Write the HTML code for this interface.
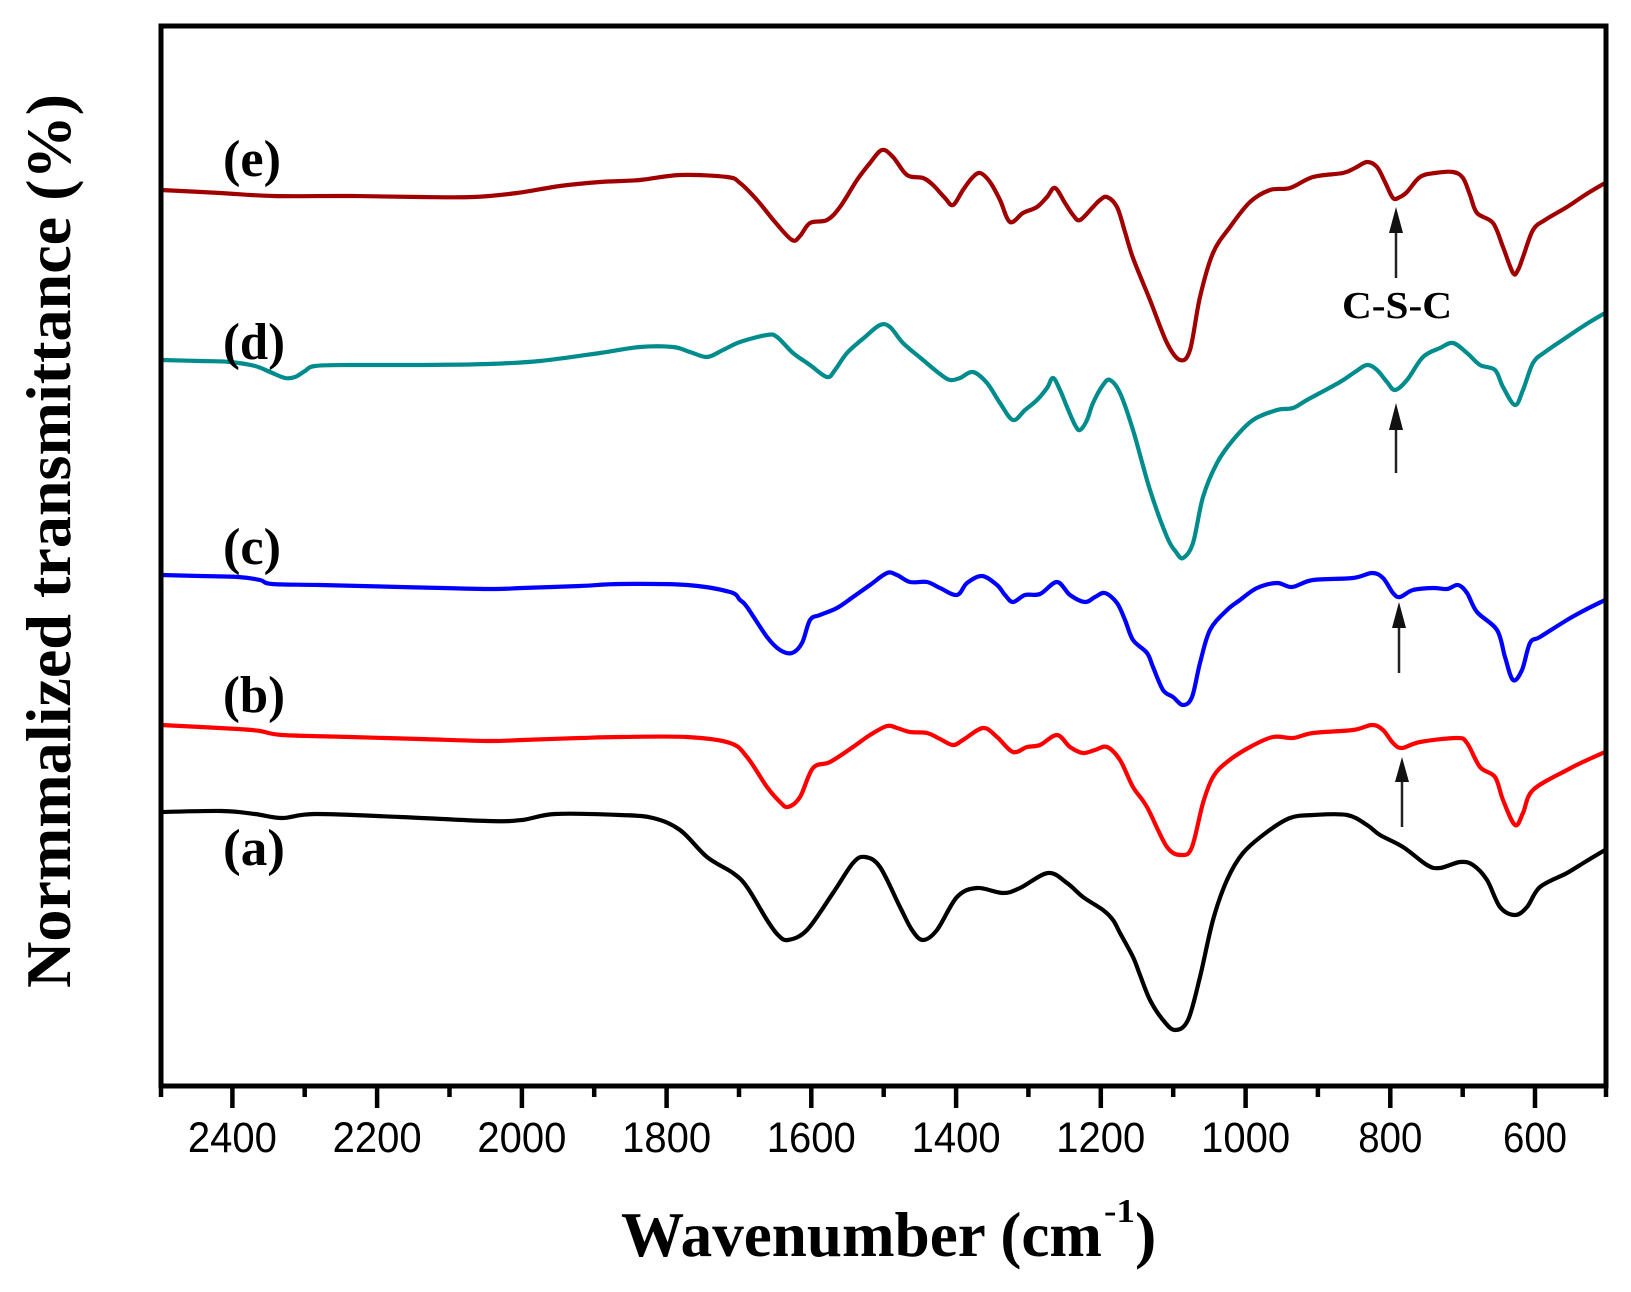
<!DOCTYPE html>
<html>
<head>
<meta charset="utf-8">
<style>
  html, body { margin: 0; padding: 0; background: #ffffff; }
  svg { display: block; }
</style>
</head>
<body>
<svg id="chart" width="1631" height="1292" viewBox="0 0 1631 1292" xmlns="http://www.w3.org/2000/svg">
  <rect x="0" y="0" width="1631" height="1292" fill="#ffffff"/>

  <!-- Curves -->
  <g id="curves" fill="none" stroke-width="4.2" stroke-linejoin="round" stroke-linecap="round">
    <!-- (e) dark red -->
    <polyline stroke="#a00000" points="161,190 220,193 273,196 350,196 420,197 473,197 517,193 560,186 600,182 640,180 680,175 727,177 740,183 757,200 775,222 792,240 800,236 810,223 827,220 840,207 857,180 870,163 882,150 893,157 907,175 923,178 933,185 945,198 953,205 963,190 972,178 980,173 990,182 1000,200 1010,222 1023,213 1037,207 1047,197 1055,188 1065,203 1073,215 1080,220 1093,207 1100,200 1107,197 1117,207 1125,232 1133,258 1150,300 1167,343 1180,360 1190,350 1200,297 1213,253 1230,227 1250,202 1270,190 1290,188 1313,177 1343,173 1355,168 1367,162 1377,167 1385,182 1393,198 1400,197 1407,192 1420,177 1435,173 1453,172 1463,178 1470,195 1477,213 1493,223 1503,247 1513,273 1518,270 1523,257 1533,230 1545,220 1567,207 1585,195 1605,183"/>
    <!-- (d) teal -->
    <polyline stroke="#008c8c" points="161,360 200,361 230,362 255,366 270,372 285,378 295,377 305,371 315,366 350,365 420,365 488,364 540,361 600,353 640,347 673,347 690,352 707,357 723,350 740,342 767,335 777,337 793,353 810,365 827,377 835,370 847,353 865,337 880,325 890,327 903,343 923,360 940,374 950,380 960,378 973,372 987,383 1000,403 1013,420 1025,410 1037,400 1047,388 1053,378 1060,390 1067,407 1075,425 1080,430 1087,420 1093,403 1103,385 1110,380 1120,393 1133,430 1150,490 1167,537 1176,552 1183,558 1193,543 1203,497 1217,463 1233,440 1253,420 1277,410 1293,408 1307,400 1340,382 1355,372 1367,365 1377,370 1387,382 1395,390 1407,380 1423,357 1440,348 1453,343 1467,353 1480,365 1495,370 1503,387 1515,405 1523,390 1533,363 1545,352 1567,337 1585,325 1605,313"/>
    <!-- (c) blue -->
    <polyline stroke="#0000ff" points="161,575 200,576 238,577 260,580 272,584 320,585 400,587 488,589 522,588 580,586 620,584 687,585 730,592 740,600 747,607 767,637 780,650 792,653 802,643 810,620 820,615 837,608 853,597 870,585 887,573 897,575 910,582 927,582 940,588 957,595 967,583 982,576 997,585 1005,595 1013,602 1025,595 1040,594 1057,582 1070,595 1085,602 1095,597 1105,593 1117,603 1125,620 1133,640 1147,653 1153,667 1163,690 1173,697 1183,705 1192,697 1200,663 1210,630 1227,610 1240,600 1257,588 1277,583 1292,587 1313,580 1353,578 1372,573 1383,578 1393,593 1400,597 1413,590 1433,588 1447,589 1458,585 1467,593 1477,612 1497,630 1505,657 1513,680 1522,670 1530,643 1540,637 1567,620 1585,610 1605,600"/>
    <!-- (b) red -->
    <polyline stroke="#ff0000" points="161,725 238,729 260,731 282,735 350,737 420,739 488,741 522,740 580,738 620,737 687,737 730,743 747,757 767,787 780,802 788,807 800,797 813,768 830,762 853,747 870,735 887,726 897,728 910,732 927,733 940,739 953,745 963,740 983,728 997,737 1013,752 1027,747 1040,745 1057,735 1070,747 1083,753 1095,750 1107,747 1120,760 1133,787 1147,807 1167,847 1182,855 1192,847 1203,803 1213,777 1227,762 1250,747 1273,737 1293,738 1313,733 1353,730 1372,725 1383,730 1393,743 1402,748 1420,742 1457,738 1467,743 1480,767 1495,777 1503,800 1515,825 1523,813 1533,790 1567,770 1585,761 1605,752"/>
    <!-- (a) black -->
    <polyline stroke="#000000" points="161,812 222,811 255,814 282,818 315,814 400,817 488,821 522,820 555,814 620,815 653,818 680,830 707,857 733,873 747,887 767,920 778,935 788,940 807,930 833,893 853,863 865,857 880,867 900,907 912,930 923,940 937,930 957,897 977,888 1003,893 1020,888 1048,873 1067,883 1083,897 1103,910 1113,920 1120,933 1133,957 1140,975 1150,1000 1163,1020 1175,1030 1188,1020 1200,977 1213,920 1227,880 1243,853 1267,832 1290,818 1313,815 1347,815 1367,825 1380,835 1403,847 1427,865 1440,868 1460,862 1473,865 1487,880 1500,907 1515,915 1527,907 1540,887 1567,873 1585,862 1605,850"/>
  </g>

  <!-- Frame -->
  <rect x="161" y="26" width="1445" height="1060" fill="none" stroke="#000" stroke-width="5"/>

  <!-- Ticks -->
  <g stroke="#000" stroke-width="4.5">
    <line x1="232.4" y1="1086" x2="232.4" y2="1108"/>
    <line x1="377.1" y1="1086" x2="377.1" y2="1108"/>
    <line x1="521.9" y1="1086" x2="521.9" y2="1108"/>
    <line x1="666.6" y1="1086" x2="666.6" y2="1108"/>
    <line x1="811.3" y1="1086" x2="811.3" y2="1108"/>
    <line x1="956.1" y1="1086" x2="956.1" y2="1108"/>
    <line x1="1100.8" y1="1086" x2="1100.8" y2="1108"/>
    <line x1="1245.6" y1="1086" x2="1245.6" y2="1108"/>
    <line x1="1390.3" y1="1086" x2="1390.3" y2="1108"/>
    <line x1="1535.0" y1="1086" x2="1535.0" y2="1108"/>

    <line x1="161" y1="1086" x2="161" y2="1097"/>
    <line x1="304.7" y1="1086" x2="304.7" y2="1097"/>
    <line x1="449.5" y1="1086" x2="449.5" y2="1097"/>
    <line x1="594.2" y1="1086" x2="594.2" y2="1097"/>
    <line x1="739.0" y1="1086" x2="739.0" y2="1097"/>
    <line x1="883.7" y1="1086" x2="883.7" y2="1097"/>
    <line x1="1028.4" y1="1086" x2="1028.4" y2="1097"/>
    <line x1="1173.2" y1="1086" x2="1173.2" y2="1097"/>
    <line x1="1317.9" y1="1086" x2="1317.9" y2="1097"/>
    <line x1="1462.7" y1="1086" x2="1462.7" y2="1097"/>
    <line x1="1606" y1="1086" x2="1606" y2="1097"/>
  </g>

  <!-- Tick labels -->
  <g font-family="'Liberation Sans', Arial, sans-serif" font-size="43" fill="#000" text-anchor="middle">
    <text x="232.4" y="1152" textLength="89" lengthAdjust="spacingAndGlyphs">2400</text>
    <text x="377.1" y="1152" textLength="89" lengthAdjust="spacingAndGlyphs">2200</text>
    <text x="521.9" y="1152" textLength="89" lengthAdjust="spacingAndGlyphs">2000</text>
    <text x="666.6" y="1152" textLength="89" lengthAdjust="spacingAndGlyphs">1800</text>
    <text x="811.3" y="1152" textLength="89" lengthAdjust="spacingAndGlyphs">1600</text>
    <text x="956.1" y="1152" textLength="89" lengthAdjust="spacingAndGlyphs">1400</text>
    <text x="1100.8" y="1152" textLength="89" lengthAdjust="spacingAndGlyphs">1200</text>
    <text x="1245.6" y="1152" textLength="89" lengthAdjust="spacingAndGlyphs">1000</text>
    <text x="1390.3" y="1152" textLength="64" lengthAdjust="spacingAndGlyphs">800</text>
    <text x="1535.0" y="1152" textLength="64" lengthAdjust="spacingAndGlyphs">600</text>
  </g>

  <!-- Axis titles -->
  <g font-family="'Liberation Serif', 'Times New Roman', serif" font-weight="bold" fill="#000">
    <text transform="translate(70,541) rotate(-90)" text-anchor="middle" font-size="64" textLength="894" lengthAdjust="spacingAndGlyphs">Normmalized transmittance (%)</text>
    <text x="621" y="1256" font-size="64" textLength="481" lengthAdjust="spacingAndGlyphs">Wavenumber (cm</text>
    <text x="1104" y="1222" font-size="34" textLength="31" lengthAdjust="spacingAndGlyphs">-1</text>
    <text x="1135" y="1256" font-size="64">)</text>
  </g>

  <!-- Series labels -->
  <g font-family="'Liberation Serif', 'Times New Roman', serif" font-weight="bold" font-size="52" fill="#000">
    <text x="223" y="176" textLength="58" lengthAdjust="spacingAndGlyphs">(e)</text>
    <text x="223" y="359" textLength="62" lengthAdjust="spacingAndGlyphs">(d)</text>
    <text x="223" y="564" textLength="58" lengthAdjust="spacingAndGlyphs">(c)</text>
    <text x="223" y="712" textLength="62" lengthAdjust="spacingAndGlyphs">(b)</text>
    <text x="223" y="865" textLength="62" lengthAdjust="spacingAndGlyphs">(a)</text>
  </g>

  <!-- C-S-C annotation -->
  <text x="1397" y="318" text-anchor="middle" font-family="'Liberation Serif', 'Times New Roman', serif" font-weight="bold" font-size="38" textLength="110" lengthAdjust="spacingAndGlyphs" fill="#000">C-S-C</text>

  <!-- Arrows -->
  <g stroke="#222" stroke-width="2.5">
    <line x1="1396" y1="278" x2="1396" y2="230"/>
    <line x1="1396" y1="473" x2="1396" y2="427"/>
    <line x1="1399" y1="673" x2="1399" y2="625"/>
    <line x1="1402" y1="827" x2="1402" y2="779"/>
  </g>
  <g fill="#111">
    <polygon points="1396,207 1389,233 1403,233"/>
    <polygon points="1396,403 1389,430 1403,430"/>
    <polygon points="1399,602 1392,628 1406,628"/>
    <polygon points="1402,757 1395,782 1409,782"/>
  </g>
</svg>
<script>
(function(){
  try {
    var ns = "http://www.w3.org/2000/svg";
    var g = document.getElementById("curves");
    var lines = Array.prototype.slice.call(g.querySelectorAll("polyline"));
    lines.forEach(function(pl){
      var pts = pl.getAttribute("points").trim().split(/\s+/).map(function(s){
        var a = s.split(","); return [parseFloat(a[0]), parseFloat(a[1])];
      });
      if (pts.length < 3) return;
      var d = "M" + pts[0][0] + "," + pts[0][1];
      for (var i = 0; i < pts.length - 1; i++) {
        var p0 = pts[i - 1] || pts[i];
        var p1 = pts[i];
        var p2 = pts[i + 1];
        var p3 = pts[i + 2] || p2;
        var t = 1/6;
        var c1x = p1[0] + (p2[0] - p0[0]) * t;
        var c1y = p1[1] + (p2[1] - p0[1]) * t;
        var c2x = p2[0] - (p3[0] - p1[0]) * t;
        var c2y = p2[1] - (p3[1] - p1[1]) * t;
        d += " C" + c1x.toFixed(2) + "," + c1y.toFixed(2) + " " +
             c2x.toFixed(2) + "," + c2y.toFixed(2) + " " + p2[0] + "," + p2[1];
      }
      var path = document.createElementNS(ns, "path");
      path.setAttribute("d", d);
      path.setAttribute("stroke", pl.getAttribute("stroke"));
      g.replaceChild(path, pl);
    });
  } catch (e) {}
})();
</script>
</body>
</html>
